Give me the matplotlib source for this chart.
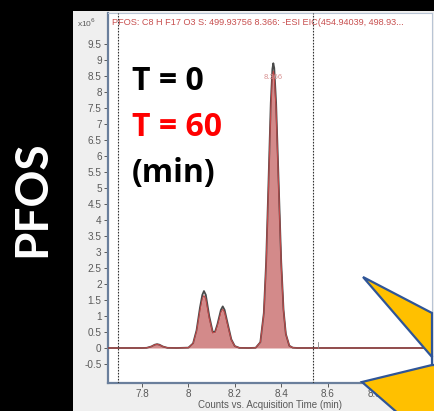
import matplotlib
matplotlib.use("Agg")
import matplotlib.pyplot as plt
from matplotlib.patches import Rectangle, Polygon

# ---------------- data ----------------
time_min = [7.65, 7.80, 7.82, 7.84, 7.855, 7.865, 7.875, 7.89, 7.91, 7.95,
            8.00, 8.02, 8.035, 8.05, 8.06, 8.067, 8.075, 8.09, 8.105, 8.115,
            8.125, 8.14, 8.148, 8.156, 8.17, 8.185, 8.20, 8.22, 8.26, 8.29,
            8.31, 8.325, 8.335, 8.345, 8.355, 8.362, 8.366, 8.37, 8.378, 8.388,
            8.40, 8.41, 8.42, 8.435, 8.45, 8.47, 8.55, 9.05]
counts_t0 = [0.0, 0.0, 0.005, 0.046, 0.103, 0.12, 0.103, 0.046, 0.005, 0.0,
             0.011, 0.144, 0.55, 1.27, 1.66, 1.78, 1.66, 0.99, 0.50, 0.51,
             0.74, 1.19, 1.30, 1.19, 0.74, 0.27, 0.06, 0.004, 0.0, 0.007,
             0.18, 1.09, 2.68, 5.13, 7.65, 8.72, 8.90, 8.75, 7.67, 5.40,
             2.70, 1.20, 0.44, 0.07, 0.01, 0.0, 0.0, 0.0]
counts_t60 = [0.0, 0.0, 0.005, 0.044, 0.098, 0.115, 0.098, 0.044, 0.005, 0.0,
              0.010, 0.132, 0.51, 1.17, 1.53, 1.64, 1.53, 0.92, 0.47, 0.48,
              0.69, 1.11, 1.21, 1.11, 0.69, 0.25, 0.056, 0.004, 0.0, 0.007,
              0.175, 1.06, 2.60, 4.98, 7.43, 8.47, 8.65, 8.50, 7.45, 5.25,
              2.62, 1.17, 0.43, 0.07, 0.01, 0.0, 0.0, 0.0]
integration_bounds = [7.695, 8.535]
apex_label = "8.366"
apex_time = 8.366
apex_count = 8.9
yticks = [-0.5, 0, 0.5, 1, 1.5, 2, 2.5, 3, 3.5, 4, 4.5, 5, 5.5, 6, 6.5, 7,
          7.5, 8, 8.5, 9, 9.5]
xticks = [7.8, 8.0, 8.2, 8.4, 8.6, 8.8]
title_text = "PFOS: C8 H F17 O3 S: 499.93756 8.366: -ESI EIC(454.94039, 498.93..."
xlabel_text = "Counts vs. Acquisition Time (min)"

W, H = 435, 411
fig = plt.figure(figsize=(W / 100, H / 100), dpi=100, facecolor="black")

def fx(px):
    return px / W

def fy(py):
    return 1 - py / H

# gray instrument panel (background axes)
bg = fig.add_axes([0, 0, 1, 1], zorder=-5)
bg.set_xlim(0, W)
bg.set_ylim(H, 0)
bg.axis("off")
bg.add_patch(Rectangle((73, 11), W - 73, H - 11, facecolor="#efefef", edgecolor="none"))

ax = fig.add_axes([fx(108), fy(383), fx(432) - fx(108), fy(13) - fy(383)], zorder=1)
ax.set_facecolor("white")
ax.set_xlim(7.6534, 9.05)
ax.set_ylim(-1.094, 10.47)

ax.fill_between(time_min, counts_t60, 0, color="#d38a8a", lw=0, zorder=2)
ax.plot(time_min, counts_t0, color="#4a4a4a", lw=1.3, zorder=3)
ax.plot(time_min, counts_t60, color="#c04848", lw=0.8, zorder=4)
for b in integration_bounds:
    ax.axvline(b, color="#333333", lw=0.8, ls=(0, (1.5, 1.2)), zorder=5)
ax.plot([8.56, 8.56], [0.0, 0.2], color="#888888", lw=0.6, zorder=5)
ax.text(apex_time, apex_count - 0.35, apex_label, ha="center", va="top",
        fontsize=5.5, color="#d89090", family="Liberation Sans", zorder=6)

ax.set_yticks(yticks)
ax.set_yticklabels([("%g" % v) for v in yticks])
ax.set_xticks(xticks)
ax.set_xticklabels([("%g" % v) for v in xticks])
ax.tick_params(axis="both", labelsize=7.2, colors="#5a5a5a", length=3, width=0.7, pad=1.5)
for lab in ax.get_xticklabels() + ax.get_yticklabels():
    lab.set_family("Liberation Sans")
for s in ["left", "bottom"]:
    ax.spines[s].set_color("#6a7f9c")
    ax.spines[s].set_linewidth(1.6)
for s in ["top", "right"]:
    ax.spines[s].set_color("#b8c4d4")
    ax.spines[s].set_linewidth(0.8)
ax.set_xlabel(xlabel_text, fontsize=7, color="#5a5a5a", family="Liberation Sans", labelpad=0.3)

ax.text(0.012, 0.975, title_text, transform=ax.transAxes, ha="left", va="center",
        fontsize=6.6, color="#c85050", family="Liberation Sans", clip_on=True)
ax.text(-0.095, 0.973, r"x10$^{6}$", transform=ax.transAxes, ha="left", va="center",
        fontsize=6, color="#5a5a5a", family="Liberation Sans")

# annotations
fig.text(fx(132), fy(90), "T = 0", color="black", fontsize=23, fontweight="bold",
         family="Open Sans", ha="left", va="baseline", zorder=20)
fig.text(fx(132), fy(136), "T = 60", color="#ff0000", fontsize=23, fontweight="bold",
         family="Open Sans", ha="left", va="baseline", zorder=20)
fig.text(fx(132), fy(182), "(min)", color="black", fontsize=23, fontweight="bold",
         family="Open Sans", ha="left", va="baseline", zorder=20)
fig.text(fx(32), fy(199), "PFOS", color="white", fontsize=33, fontweight="bold",
         family="Lato", ha="center", va="center", rotation=90, zorder=20)

# yellow callout star (two spikes entering from the right edge)
ov = fig.add_axes([0, 0, 1, 1], facecolor="none", zorder=10)
ov.set_xlim(0, W)
ov.set_ylim(H, 0)
ov.axis("off")
ov.add_patch(Polygon([(363, 277), (432, 313), (432, 357)],
                     closed=True, facecolor="#ffc000", edgecolor="#2f5597", lw=1.6,
                     joinstyle="miter", zorder=10))
ov.add_patch(Polygon([(362, 382), (432, 365), (438, 365), (438, 415), (400, 415)],
                     closed=True, facecolor="#ffc000", edgecolor="#2f5597", lw=1.6,
                     joinstyle="miter", zorder=10))
ov.plot([432, 432], [357, 365], color="#2f5597", lw=1.6, zorder=11)

fig.savefig("out.png", dpi=100, facecolor="black")
